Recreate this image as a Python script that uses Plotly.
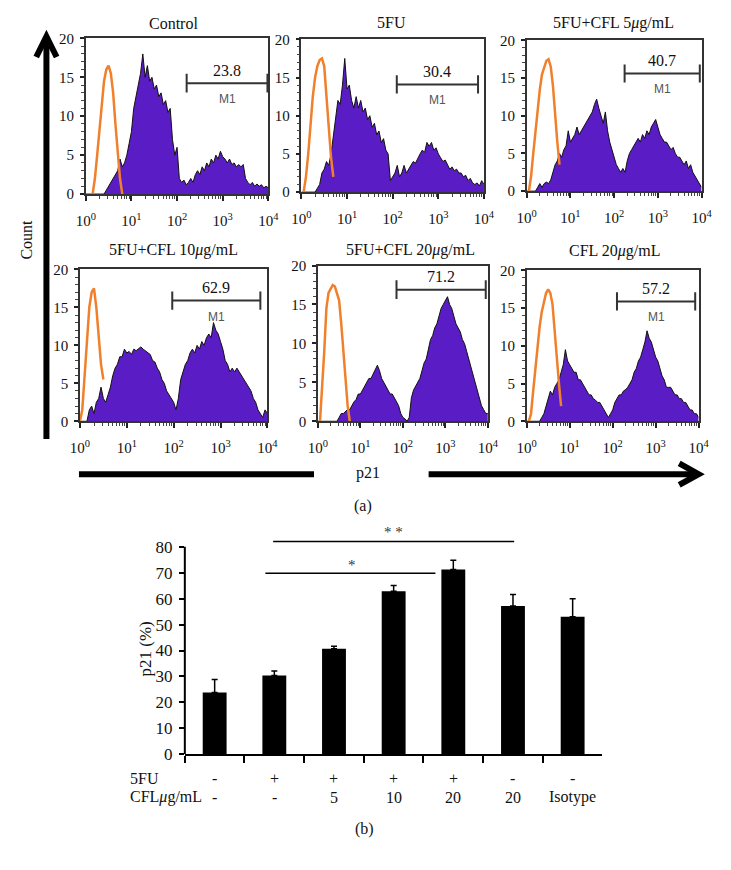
import plotly.graph_objects as go

W, H = 731, 870
SERIF = "Liberation Serif"
SANS = "Liberation Sans"
PURPLE = "#5a1cc4"
ORANGE = "#f0802c"

# log10 channel positions of the histograms (10^0 .. 10^4, 0.05 decade steps)
DECADES = [round(0.05 * i, 2) for i in range(81)]

PANEL_TITLES = ["Control", "5FU", "5FU+CFL 5<i>μ</i>g/mL",
                "5FU+CFL 10<i>μ</i>g/mL", "5FU+CFL 20<i>μ</i>g/mL", "CFL 20<i>μ</i>g/mL"]

# p21 histograms (counts), one value per channel position
HIST_CONTROL = [0, 0, 0, 0, 0, 0, 0, 0, 0,
                0.5, 1, 1.5, 2, 2.5, 3, 4.5, 3.5, 4, 5, 6.5,
                8, 11, 12.5, 14, 15.5, 18, 15, 16.5, 14.5, 15, 13.5, 14, 12.5, 13, 11.5, 12, 10.5, 11, 7, 5,
                6, 2, 1.5, 1.8, 1.2, 1.5, 2, 1.5, 2.5, 3, 2.5, 3.5, 3, 4, 3.5, 4.5, 4, 5, 4.5, 5.5,
                4.8, 4.5, 4, 4.5, 3.8, 4, 3.5, 3.8, 3.5, 3.8, 2, 1.5, 1.2, 1.5, 1, 1.3, 1, 1.2, 0.8, 1,
                0.8]
HIST_5FU = [0, 0, 0, 0, 0, 0, 0,
            0.5, 1, 2.5, 3, 4, 3.5, 5, 7.5, 10, 12, 11.5, 14, 17.5,
            13.5, 14, 12, 11, 12.5, 11, 12, 10.5, 11, 9.5, 10, 8.5, 9, 7.5, 8, 6.5, 7, 5.5, 5, 1.5,
            2, 2.5, 3.5, 2, 2.5, 3.5, 2.5, 3, 3.5, 4, 3.8, 4.5, 5, 5.5, 5.2, 6.5, 6, 6.5, 5.5, 5.8,
            5, 4.5, 4, 4.2, 3.5, 3, 3.3, 2.8, 3, 2.5, 2.5, 2, 2.2, 1.5, 1.8, 1.2, 1, 1.2, 0.8, 1.5,
            1]
HIST_5FU_CFL5 = [0, 0, 0, 0, 0,
                 0.5, 1, 0.5, 1, 1.2, 1, 1.5, 2.5, 3.5, 4, 5, 4.5, 5.5, 6, 8,
                 6.5, 7, 7.5, 8.5, 7.5, 8, 8.5, 9, 9.5, 10, 10.5, 11.5, 12.2, 11, 10, 9, 10.5, 8, 6.5, 5.5,
                 4.5, 3.5, 3, 2.5, 3, 2.5, 4, 5, 5.5, 6, 6.5, 7, 6.5, 7.5, 7, 8, 7.5, 8.5, 9, 9.5,
                 8.5, 7.5, 7, 6.5, 6.5, 6, 5.5, 5.8, 5, 4.5, 4.5, 4, 3.5, 4, 3, 3.5, 2.5, 2, 1.5, 1,
                 0.5]
HIST_5FU_CFL10 = [0, 0, 0, 0,
                  1.5, 2, 1, 2.5, 3, 4.5, 3, 2.5, 3.5, 4.5, 6, 7, 7.5, 8.5, 8.5, 9.5,
                  9, 9.2, 8.8, 9.5, 9.3, 9.5, 9.8, 9.5, 9.3, 9, 8.8, 8, 7.8, 7, 6.5, 5.5, 5, 4, 3.5, 3,
                  2.5, 1.5, 3, 5.5, 6.5, 7.5, 8, 9, 9.5, 9, 10, 9.5, 10.5, 10, 11, 11.5, 11, 13, 12, 11.5,
                  10.5, 9.5, 8, 7.5, 6.5, 7, 6.5, 7, 6.5, 6, 5.5, 5, 4.5, 4, 3, 2.5, 1.5, 1, 0.5, 1.5,
                  1]
HIST_5FU_CFL20 = [0, 0, 0, 0, 0, 0, 0, 0, 0, 0,
                  0.5, 1, 1, 1.2, 1.5, 1.5, 2, 2.5, 2.8, 3.5,
                  3.5, 4, 4.5, 5, 5.5, 5.5, 6, 6.5, 7.2, 6.5, 5.5, 5, 4.5, 4, 3.5, 3.5, 3, 2.5, 2, 1,
                  0.5, 0.3, 0, 0.5, 3, 4, 4.5, 5, 5.5, 6.5, 7.5, 8, 9.5, 10.5, 11, 12, 12.5, 13.5, 14.5, 15,
                  15.5, 16, 15, 14.5, 13.5, 12.5, 12, 11.5, 10.5, 10, 9, 8, 7, 6, 5, 4, 3, 2, 1.5, 1,
                  1]
HIST_CFL20 = [0, 0, 0, 0, 0, 0, 0,
              0.5, 1, 2, 3, 4, 3.5, 4.5, 5, 5.5, 6.5, 7.5, 9.5, 8,
              7.5, 7, 6.5, 6.5, 5.5, 5.5, 5, 4.5, 4, 3.5, 3.5, 3, 2.8, 2.5, 2.5, 2, 1.5, 1, 0.5, 1,
              1.5, 2.5, 3, 3.5, 3.5, 4, 4.2, 4.5, 5, 5.5, 6.5, 7, 8, 8.5, 9.5, 10.5, 12, 11, 10.5, 9.5,
              8.5, 8, 7, 6, 5.5, 4.5, 4.5, 4.5, 4, 3.5, 3.5, 3, 3, 2.5, 2.5, 2, 1.5, 1.5, 1, 1,
              0.5]

# isotype control curves (orange), starting decade + counts
ISO_START = [0.15, 0.05, 0.05, 0.00, 0.05, 0.05]
ISO_CONTROL = [0, 2, 5, 8.5, 12, 14.5, 16, 16.5, 15.5, 13, 9, 5, 2, 0]
ISO_5FU = [0, 2, 5, 9, 12.5, 15, 16.5, 17.3, 17.5, 16.5, 13, 8.5, 4.5, 2]
ISO_5FU_CFL5 = [0, 2, 5, 8, 11, 13.5, 15.5, 16.5, 17.3, 17.5, 16.5, 14, 10, 6.5, 3.5]
ISO_5FU_CFL10 = [0, 1.5, 6, 11, 15, 17, 17.5, 15, 11, 7.5, 5.5]
ISO_5FU_CFL20 = [0, 4, 9, 14.5, 16.5, 17, 17.5, 17.3, 16.5, 15.5, 12.5, 9, 5, 2, 0]
ISO_CFL20 = [0, 1, 4, 7, 10, 12.5, 14.5, 16, 17, 17.5, 17, 15.5, 12.5, 8.5, 5, 2]

# M1 gates (decades) and percentages
GATE_LO = [2.21, 2.09, 2.24, 1.97, 1.85, 2.10]
GATE_HI = [3.98, 3.87, 3.96, 3.85, 3.95, 3.92]
GATE_Y = [14.25, 14.1, 15.6, 15.9, 16.9, 15.9]
GATE_PCT = ["23.8", "30.4", "40.7", "62.9", "71.2", "57.2"]
GATE_NAME = ["M1", "M1", "M1", "M1", "", "M1"]

# panel (b)
GROUPS = ["Control", "5FU", "5FU+CFL5", "5FU+CFL10", "5FU+CFL20", "CFL20", "Isotype"]
BAR_VALUES = [23.8, 30.4, 40.7, 62.9, 71.2, 57.2, 53.0]
BAR_ERRORS = [5.0, 1.7, 0.9, 2.2, 3.6, 4.4, 7.0]
FU_ROW = ["-", "+", "+", "+", "+", "-", "-"]
CFL_ROW = ["-", "-", "5", "10", "20", "20", "Isotype"]

HISTS = [HIST_CONTROL, HIST_5FU, HIST_5FU_CFL5, HIST_5FU_CFL10, HIST_5FU_CFL20, HIST_CFL20]
ISOS = [ISO_CONTROL, ISO_5FU, ISO_5FU_CFL5, ISO_5FU_CFL10, ISO_5FU_CFL20, ISO_CFL20]

# panel boxes in pixels: x0, x1, y_top, y_bottom
PANELS = [(78, 266, 31, 190), (300, 488, 32, 188), (532, 712, 33, 187),
          (72, 265, 267, 422), (317, 492, 263, 422), (532, 709, 268, 422)]
TITLE_POS = [(168, 16), (393, 15), (621, 15), (168, 247), (412, 247), (622, 248)]


def px(x):
    return x / W


def py(y):
    return 1 - y / H


def label(x, y, text, size=16, family=SERIF, color="#111", **kw):
    d = dict(x=x, y=y, text=text, showarrow=False, xanchor="center", yanchor="middle",
             font=dict(family=family, size=size, color=color))
    d.setdefault("xref", "paper")
    d.setdefault("yref", "paper")
    d.update(kw)
    return d


fig = go.Figure()
annotations = []
shapes = []
layout_axes = {}

minor_vals = [m * 10 ** k for k in range(4) for m in range(2, 10)]
xs_all = [10 ** d for d in DECADES]

for i in range(6):
    n = "" if i == 0 else str(i + 1)
    xa, ya = "x" + n, "y" + n
    x0, x1, yt, yb = PANELS[i]

    fig.add_trace(go.Scatter(x=xs_all, y=HISTS[i], xaxis=xa, yaxis=ya, mode="lines",
                             fill="tozeroy", fillcolor=PURPLE,
                             line=dict(color="#111", width=1), hoverinfo="skip"))
    k0 = DECADES.index(ISO_START[i])
    fig.add_trace(go.Scatter(x=xs_all[k0:k0 + len(ISOS[i])], y=ISOS[i], xaxis=xa, yaxis=ya,
                             mode="lines", line=dict(color=ORANGE, width=2.5), hoverinfo="skip"))

    lo, hi, gy = 10 ** GATE_LO[i], 10 ** GATE_HI[i], GATE_Y[i]
    fig.add_trace(go.Scatter(x=[lo, hi, None, lo, lo, None, hi, hi],
                             y=[gy, gy, None, gy - 1.2, gy + 1.2, None, gy - 1.2, gy + 1.2],
                             xaxis=xa, yaxis=ya, mode="lines",
                             line=dict(color="#333", width=2), hoverinfo="skip"))
    mid = (GATE_LO[i] + GATE_HI[i]) / 2
    annotations.append(label(mid, gy, GATE_PCT[i], xref=xa, yref=ya, yshift=13))
    if GATE_NAME[i]:
        annotations.append(label(mid, gy, GATE_NAME[i], size=12, family=SANS, color="#555",
                                 xref=xa, yref=ya, yshift=-16))

    tx, ty = TITLE_POS[i]
    annotations.append(label(px(tx), py(ty), PANEL_TITLES[i]))

    layout_axes["xaxis" + n] = dict(
        domain=[px(x0), px(x1)], anchor=ya, type="log", range=[0, 4],
        tickvals=[1, 10, 100, 1000, 10000],
        ticktext=["10<sup>0</sup>", "10<sup>1</sup>", "10<sup>2</sup>", "10<sup>3</sup>", "10<sup>4</sup>"],
        ticks="outside", ticklen=5, tickwidth=1.5, tickcolor="#222",
        minor=dict(tickvals=minor_vals, ticks="outside", ticklen=3, tickwidth=1, tickcolor="#444"),
        showline=True, linecolor="#333", linewidth=1.5, mirror=True,
        showgrid=False, zeroline=False, ticklabelstandoff=7,
        tickfont=dict(family=SERIF, size=15, color="#111"))
    layout_axes["yaxis" + n] = dict(
        domain=[py(yb), py(yt)], anchor=xa, range=[0, 20], tickvals=[0, 5, 10, 15, 20],
        ticks="outside", ticklen=4, tickwidth=1.5, tickcolor="#222",
        minor=dict(dtick=1, ticks="outside", ticklen=3, tickwidth=1, tickcolor="#444"),
        showline=True, linecolor="#333", linewidth=1.5, mirror=True,
        showgrid=False, zeroline=False, ticklabelstandoff=3,
        tickfont=dict(family=SERIF, size=15, color="#111"))

# bar chart (b)
fig.add_trace(go.Bar(x=GROUPS, y=BAR_VALUES, xaxis="x7", yaxis="y7", width=0.4,
                     marker=dict(color="black", line=dict(width=0)),
                     error_y=dict(type="data", array=BAR_ERRORS, arrayminus=[0] * len(BAR_ERRORS),
                                  symmetric=False, color="black", thickness=1.5, width=3),
                     hoverinfo="skip"))

layout_axes["xaxis7"] = dict(
    domain=[px(180), px(610)], anchor="y7", type="category", categoryorder="array",
    categoryarray=GROUPS, range=[-0.5, 6.5], tickson="boundaries", ticks="outside",
    ticklen=7, tickwidth=1.5, tickcolor="black", showticklabels=False,
    showline=True, linecolor="black", linewidth=1.5, showgrid=False, zeroline=False)
layout_axes["yaxis7"] = dict(
    domain=[py(762), py(529)], anchor="x7", range=[0, 88], tickvals=list(range(0, 81, 10)),
    ticks="outside", ticklen=5, tickwidth=2, tickcolor="black", showline=False,
    showgrid=False, zeroline=False, ticklabelstandoff=3,
    tickfont=dict(family=SERIF, size=17, color="#111"))

# y axis line of (b) stopping at 80
shapes.append(dict(type="line", xref="paper", yref="y7", x0=px(180), x1=px(180), y0=0, y1=80,
                   line=dict(color="black", width=2)))
# significance brackets
shapes.append(dict(type="line", xref="x7", yref="y7", x0=0.98, x1=5.02, y0=82, y1=82,
                   line=dict(color="black", width=1.5)))
shapes.append(dict(type="line", xref="x7", yref="y7", x0=0.85, x1=3.7, y0=69.8, y1=69.8,
                   line=dict(color="black", width=1.5)))
annotations.append(label(3.0, 85.6, "* *", size=15, color="#333", xref="x7", yref="y7"))
annotations.append(label(2.3, 72.8, "*", size=15, color="#333", xref="x7", yref="y7"))

annotations.append(label(px(139), py(655), "p21 (%)", size=17, textangle=-90))

for g, fu, cfl in zip(GROUPS, FU_ROW, CFL_ROW):
    annotations.append(label(g, py(787), fu, xref="x7"))
    annotations.append(label(g, py(806), cfl, xref="x7"))
annotations.append(label(px(122), py(787), "5FU", xanchor="left"))
annotations.append(label(px(122), py(806), "CFL<i>μ</i>g/mL", xanchor="left"))

# big axis arrows of (a)
shapes.append(dict(type="line", xref="paper", yref="paper", x0=px(37.5), x1=px(37.5),
                   y0=py(440), y1=py(31), line=dict(color="black", width=6)))
shapes.append(dict(type="path", xref="paper", yref="paper",
                   path=f"M {px(27)} {py(50)} L {px(37.5)} {py(29)} L {px(48)} {py(50)}",
                   line=dict(color="black", width=6)))
shapes.append(dict(type="line", xref="paper", yref="paper", x0=px(71), x1=px(313),
                   y0=py(476), y1=py(476), line=dict(color="black", width=6)))
shapes.append(dict(type="line", xref="paper", yref="paper", x0=px(431), x1=px(705),
                   y0=py(476), y1=py(476), line=dict(color="black", width=6)))
shapes.append(dict(type="path", xref="paper", yref="paper",
                   path=f"M {px(689)} {py(465)} L {px(709)} {py(476)} L {px(689)} {py(487)}",
                   line=dict(color="black", width=6)))

annotations.append(label(px(17), py(237), "Count", textangle=-90))
annotations.append(label(px(369), py(475), "p21"))
annotations.append(label(px(363), py(509), "(a)"))
annotations.append(label(px(365), py(838), "(b)"))

fig.update_layout(
    width=W, height=H, margin=dict(l=0, r=0, t=0, b=0),
    paper_bgcolor="white", plot_bgcolor="white", showlegend=False,
    annotations=annotations, shapes=shapes, **layout_axes)

fig.write_html("out.html", config={"displayModeBar": False},
               post_script="document.body.style.margin='0';")
